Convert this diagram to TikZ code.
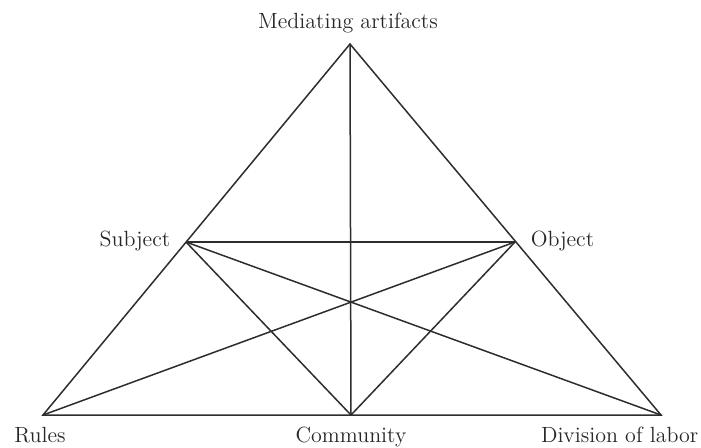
\documentclass[tikz,border=0pt]{standalone}
\tikzset{every picture/.style={line width=0.75pt}}
\begin{document}
\begin{tikzpicture}[x=0.5pt,y=0.5pt,yscale=-1,xscale=1]
\useasboundingbox (0,0) rectangle (701,447);
\tikzset{
  edge/.style={color={rgb, 255:red, 45; green, 45; blue, 45 }, draw opacity=1},
  lbl/.style={font=\fontsize{11}{13}\selectfont, text={rgb, 255:red, 40; green, 40; blue, 40 }, inner sep=0pt}
}

%Corners of the activity triangle
\coordinate (mediating) at (350,44);
\coordinate (subject) at (186,242);
\coordinate (object) at (515,242);
\coordinate (rules) at (43,415);
\coordinate (community) at (351,415);
\coordinate (division) at (661,415);

%Shape: Outer triangle
\draw [edge] (mediating) -- (rules) -- (division) -- cycle ;
%Straight Lines
\draw [edge] (mediating) -- (community) ;
\draw [edge] (subject) -- (object) ;
\draw [edge] (subject) -- (community) -- (object) ;
\draw [edge] (subject) -- (division) ;
\draw [edge] (object) -- (rules) ;

% Text Node
\draw (348,28) node [lbl, anchor=base] (medlbl) {Mediating artifacts};
% Text Node
\draw (171,246) node [lbl, anchor=base east] (sublbl) {Subject};
% Text Node
\draw (530,246) node [lbl, anchor=base west] (objlbl) {Object};
% Text Node
\draw (40,442) node [lbl, anchor=base] (rullbl) {Rules};
% Text Node
\draw (351,442) node [lbl, anchor=base] (comlbl) {Community};
% Text Node
\draw (699,442) node [lbl, anchor=base east] (divlbl) {Division of labor};

\end{tikzpicture}
\end{document}
